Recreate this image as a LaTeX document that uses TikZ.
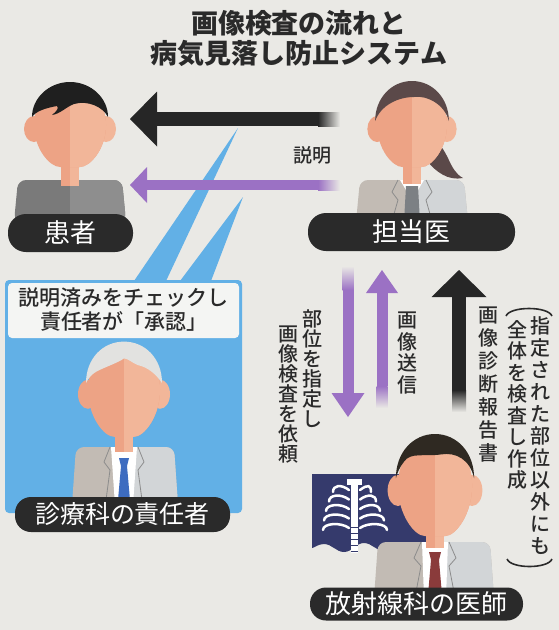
\documentclass[tikz,border=0pt]{standalone}
\usepackage{fontspec}
\newfontfamily\jp{Noto Sans CJK JP}
\newfontfamily\jpm{Noto Sans CJK JP}[UprightFont={* Medium}]
\usetikzlibrary{arrows.meta}
\usetikzlibrary{calc}

\definecolor{paper}{HTML}{EAE9E5}
\definecolor{ink}{HTML}{2A2A2A}
\definecolor{pillbg}{HTML}{2A2A2A}
\definecolor{arrowblack}{HTML}{262626}
\definecolor{lilac}{HTML}{9B71C4}
\definecolor{sky}{HTML}{62B0E6}
\definecolor{labelbg}{HTML}{F4F5F3}
\definecolor{skin}{HTML}{EDA385}
\definecolor{skinlight}{HTML}{F2B699}
\definecolor{sweater}{HTML}{7A7A7A}
\definecolor{sweaterlight}{HTML}{8E8E8E}
\definecolor{hairblack}{HTML}{1F1F1F}
\definecolor{hairbrown}{HTML}{5B4949}
\definecolor{hairwhite}{HTML}{E2E2E0}
\definecolor{jacketwarm}{HTML}{C2BBB4}
\definecolor{jacketcool}{HTML}{D2D5D7}
\definecolor{tieblue}{HTML}{3D6CC0}
\definecolor{tiegrey}{HTML}{7C8084}
\definecolor{tiered}{HTML}{8A3B3B}
\definecolor{xray}{HTML}{353A6C}

\tikzset{
  title/.style={font=\jp\bfseries\fontsize{27}{30}\selectfont, text=ink, align=center, inner sep=0pt},
  pill/.style={fill=pillbg, text=white, rounded corners=16pt, inner sep=0pt, font=\jp\fontsize{26}{26}\selectfont},
  boxtext/.style={font=\jpm\fontsize{21}{24}\selectfont, text=ink, align=center, inner sep=0pt},
  tate/.style={font=\jpm\fontsize{20}{21.5}\selectfont, text=ink, align=center, inner sep=0pt, anchor=north},
  paren/.style={draw=ink, line width=1.6pt},
  bigarrow/.style={draw=arrowblack, line width=14pt, -{Triangle[length=27pt, width=55pt, line width=0pt]}},
  lilacarrow/.style={draw=lilac, line width=#1},
  lapel/.style={draw=black!45, line width=0.8pt},
  rib/.style={draw=white, line width=2.5pt, line cap=round},
  faceshape/.style={insert path={(-36,-2) .. controls (-36,-25) and (-20,-42) .. (0,-42)
      .. controls (20,-42) and (36,-25) .. (36,-2) .. controls (36,22) and (20,40) .. (10,40)
      -- (-10,40) .. controls (-20,40) and (-36,22) .. (-36,-2) -- cycle}}
}

% ears, face and hair of one figure; #5 is the hair, in head coordinates
\newcommand{\drawhead}[5]{%
  \begin{scope}[shift={(#1,#2)}, xscale=#3, yscale=#4]
    \fill[skin] (-36,2) ellipse [x radius=10, y radius=13];
    \fill[skinlight] (36,2) ellipse [x radius=10, y radius=13];
    \fill[skin, faceshape];
    \begin{scope}
      \clip[faceshape];
      \fill[skinlight] (0,-50) rectangle (50,50);
    \end{scope}
    #5
  \end{scope}}

\begin{document}
\begin{tikzpicture}[x=1pt, y=-1pt]
  \useasboundingbox (0,0) rectangle (559,630);
  \fill[paper] (0,0) rectangle (559,630);

  \node[title] (title) at (299,39) {画像検査の流れと\\病気見落し防止システム};

  % beams down to the approval box
  \fill[sky] (238,128) -- (166,281) -- (134,281) -- cycle;
  \fill[sky] (243,197) -- (211,281) -- (180,281) -- cycle;

  % approval box
  \fill[sky, rounded corners=4pt] (5,280) rectangle (242,513);
  \fill[labelbg, rounded corners=4pt] (8,283) rectangle (239,338);
  \node[boxtext] (approve) at (124,310) {説明済みをチェックし\\責任者が「承認」};

  % arrows
  \coordinate (bk-tail) at (340,119);
  \coordinate (bk-from) at (318,119);
  \coordinate (bk-tip) at (130,119);
  \draw[bigarrow] (bk-from) -- (bk-tip);
  \shade[left color=arrowblack, right color=paper] ($(bk-from)+(0,-7)$) rectangle ($(bk-tail)+(0,7)$);

  \coordinate (ex-tail) at (340,185);
  \coordinate (ex-from) at (318,185);
  \coordinate (ex-tip) at (130,185);
  \draw[lilacarrow=10pt, -{Triangle[length=17pt, width=36pt, line width=0pt]}] (ex-from) -- (ex-tip);
  \shade[left color=lilac, right color=paper] ($(ex-from)+(0,-5)$) rectangle ($(ex-tail)+(0,5)$);

  \coordinate (rq-tail) at (348,266);
  \coordinate (rq-from) at (348,290);
  \coordinate (rq-tip) at (348,417);
  \draw[lilacarrow=11pt, -{Triangle[length=24pt, width=33pt, line width=0pt]}] (rq-from) -- (rq-tip);
  \shade[top color=paper, bottom color=lilac] ($(rq-tail)+(-5.5,0)$) rectangle ($(rq-from)+(5.5,0)$);

  \coordinate (im-tail) at (382,408);
  \coordinate (im-from) at (382,386);
  \coordinate (im-tip) at (382,270);
  \draw[lilacarrow=11pt, -{Triangle[length=23pt, width=32pt, line width=0pt]}] (im-from) -- (im-tip);
  \shade[top color=lilac, bottom color=paper] ($(im-from)+(-5.5,0)$) rectangle ($(im-tail)+(5.5,0)$);

  \coordinate (rp-tail) at (459,412);
  \coordinate (rp-from) at (459,390);
  \coordinate (rp-tip) at (459,270);
  \draw[bigarrow] (rp-from) -- (rp-tip);
  \shade[top color=arrowblack, bottom color=paper] ($(rp-from)+(-7,0)$) rectangle ($(rp-tail)+(7,0)$);

  \node[font=\jpm\fontsize{19}{19}\selectfont, text=ink, inner sep=0pt] (explain) at (312,155) {説明};

  % patient
  \fill[sweater, rounded corners=8pt] (14,222) -- (18,180) -- (122,180) -- (126,222) -- cycle;
  \begin{scope}
    \clip (70,170) rectangle (140,230);
    \fill[sweaterlight, rounded corners=8pt] (14,222) -- (18,180) -- (122,180) -- (126,222) -- cycle;
  \end{scope}
  \fill[skin] (61,158) rectangle (70,186);
  \fill[skinlight] (70,158) rectangle (79,186);
  \drawhead{70}{127}{1}{1}{%
    \fill[hairblack] (-38,-10) .. controls (-38,-29) and (-21,-45) .. (0,-45)
      .. controls (21,-45) and (38,-29) .. (38,-10) .. controls (33,-20) and (18,-27) .. (4,-23)
      .. controls (-4,-20) and (-10,-13) .. (-18,-12) .. controls (-13,-16) and (-11,-19) .. (-13,-21)
      .. controls (-24,-19) and (-34,-16) .. (-38,-10) -- cycle;}

  % doctor in charge
  \fill[hairbrown] (432,138) .. controls (450,150) and (448,170) .. (463,178)
    .. controls (448,181) and (436,172) .. (426,160) -- cycle;
  \fill[jacketwarm, rounded corners=8pt] (356,222) -- (360,180) -- (464,180) -- (468,222) -- cycle;
  \begin{scope}
    \clip (412,170) rectangle (480,230);
    \fill[jacketcool, rounded corners=8pt] (356,222) -- (360,180) -- (464,180) -- (468,222) -- cycle;
  \end{scope}
  \fill[white] (400,180) -- (424,180) -- (412,200) -- cycle;
  \fill[tiegrey] (406,186) -- (418,186) -- (420,222) -- (404,222) -- cycle;
  \draw[lapel] (398,180) -- (392,192) -- (398,200) -- (394,214);
  \draw[lapel] (426,180) -- (432,192) -- (426,200) -- (430,214);
  \fill[skin] (403,158) rectangle (412,184);
  \fill[skinlight] (412,158) rectangle (421,184);
  \drawhead{412}{127}{0.97}{1}{%
    \fill[hairbrown] (-38,-6) .. controls (-38,-29) and (-21,-46) .. (0,-46)
      .. controls (21,-46) and (38,-29) .. (38,-6) .. controls (34,-22) and (16,-32) .. (2,-30)
      .. controls (-14,-30) and (-32,-22) .. (-38,-6) -- cycle;}

  % head of the department
  \fill[jacketwarm, rounded corners=8pt] (72,505) -- (76,447) -- (174,447) -- (178,505) -- cycle;
  \begin{scope}
    \clip (124,440) rectangle (190,510);
    \fill[jacketcool, rounded corners=8pt] (72,505) -- (76,447) -- (174,447) -- (178,505) -- cycle;
  \end{scope}
  \fill[white] (111,447) -- (137,447) -- (133,505) -- (115,505) -- cycle;
  \fill[tieblue] (119,458) -- (129,458) -- (127,466) -- (121,466) -- cycle;
  \fill[tieblue] (121,466) -- (127,466) -- (130,500) -- (118,500) -- cycle;
  \draw[lapel] (110,447) -- (104,462) -- (110,470) -- (106,500);
  \draw[lapel] (138,447) -- (144,462) -- (138,470) -- (142,500);
  \fill[skin] (115,425) rectangle (124,452);
  \fill[skinlight] (124,425) rectangle (133,452);
  \drawhead{124}{392}{1}{1.12}{%
    \fill[hairwhite] (-38,-8) .. controls (-38,-30) and (-21,-45) .. (0,-45)
      .. controls (21,-45) and (38,-30) .. (38,-8) .. controls (32,-16) and (24,-22) .. (14,-24)
      .. controls (8,-26) and (4,-30) .. (0,-30) .. controls (-6,-26) and (-20,-22) .. (-28,-18)
      .. controls (-32,-16) and (-36,-12) .. (-38,-8) -- cycle;}

  % x-ray film
  \fill[xray] (312,474) -- (426,474) -- (426,551) -- (384,551)
    .. controls (376,551) and (372,543) .. (364,543) .. controls (356,543) and (352,552) .. (344,552)
    .. controls (336,552) and (332,544) .. (324,544) .. controls (318,544) and (314,548) .. (312,548) -- cycle;
  \fill[white] (347,479) rectangle (362,485);
  \fill[white] (351,481) rectangle (358,553);
  \foreach \s in {527,533,...,551}
    \draw[xray, line width=0.8pt] (351,\s) -- (358,\s);
  \foreach \i/\lx/\rx in {0/333/371, 1/329/376, 2/326/380, 3/324/384, 4/323/387} {
    \pgfmathsetmacro\ry{490+9.5*\i}
    \draw[rib] (349,\ry) .. controls (341,\ry-6) and (\lx,\ry-5) .. (\lx,\ry+2);
    \draw[rib] (360,\ry) .. controls (368,\ry-6) and (\rx,\ry-5) .. (\rx,\ry+2);
  }

  % radiologist
  \fill[jacketwarm, rounded corners=8pt] (374,598) -- (378,542) -- (490,542) -- (494,598) -- cycle;
  \begin{scope}
    \clip (435,535) rectangle (500,600);
    \fill[jacketcool, rounded corners=8pt] (374,598) -- (378,542) -- (490,542) -- (494,598) -- cycle;
  \end{scope}
  \fill[white] (422,542) -- (448,542) -- (446,598) -- (424,598) -- cycle;
  \fill[tiered] (429,552) -- (441,552) -- (439,560) -- (431,560) -- cycle;
  \fill[tiered] (431,560) -- (439,560) -- (442,595) -- (428,595) -- cycle;
  \draw[lapel] (421,542) -- (414,558) -- (421,566) -- (416,592);
  \draw[lapel] (449,542) -- (456,558) -- (449,566) -- (454,592);
  \fill[skin] (426,518) rectangle (435,548);
  \fill[skinlight] (435,518) rectangle (444,548);
  \drawhead{435}{488}{1.03}{1.2}{%
    \fill[hairblack!90!brown] (-38,-8) .. controls (-38,-30) and (-21,-45) .. (0,-45)
      .. controls (21,-45) and (38,-30) .. (38,-8) .. controls (34,-24) and (20,-30) .. (6,-28)
      .. controls (-10,-26) and (-24,-30) .. (-30,-22) .. controls (-34,-18) and (-37,-12) .. (-38,-8) -- cycle;}

  % name plates
  \node[pill, minimum width=125pt, minimum height=38pt, rounded corners=18pt] (patient) at (70.5,233) {患者};
  \node[pill, minimum width=207pt, minimum height=38pt, rounded corners=18pt] (doctor) at (411.5,232) {担当医};
  \node[pill, minimum width=215pt, minimum height=35pt, font=\jp\fontsize{25}{25}\selectfont] (chief) at (122.5,514.5) {診療科の責任者};
  \node[pill, minimum width=213pt, minimum height=33pt] (radiologist) at (416.5,604) {放射線科の医師};

  % vertical labels
  \node[tate, font=\jpm\fontsize{20}{20}\selectfont] (ask-a) at (312,310) {部\\位\\を\\指\\定\\し};
  \node[tate, font=\jpm\fontsize{20}{20}\selectfont] (ask-b) at (288,326) {画\\像\\検\\査\\を\\依\\頼};
  \node[tate] (send) at (407,312) {画\\像\\送\\信};
  \node[tate, font=\jpm\fontsize{20}{23}\selectfont] (report) at (488,307) {画\\像\\診\\断\\報\\告\\書};
  \node[tate, font=\jpm\fontsize{20}{22}\selectfont] (note-a) at (540,316) {指\\定\\さ\\れ\\た\\部\\位\\以\\外\\に\\も};
  \node[tate] (note-b) at (517,320) {全\\体\\を\\検\\査\\し\\作\\成};
  \draw[paren] (506,316) .. controls (510,306) and (548,306) .. (552,316);
  \draw[paren] (507,559) .. controls (511,569) and (548,569) .. (552,559);
\end{tikzpicture}
\end{document}
